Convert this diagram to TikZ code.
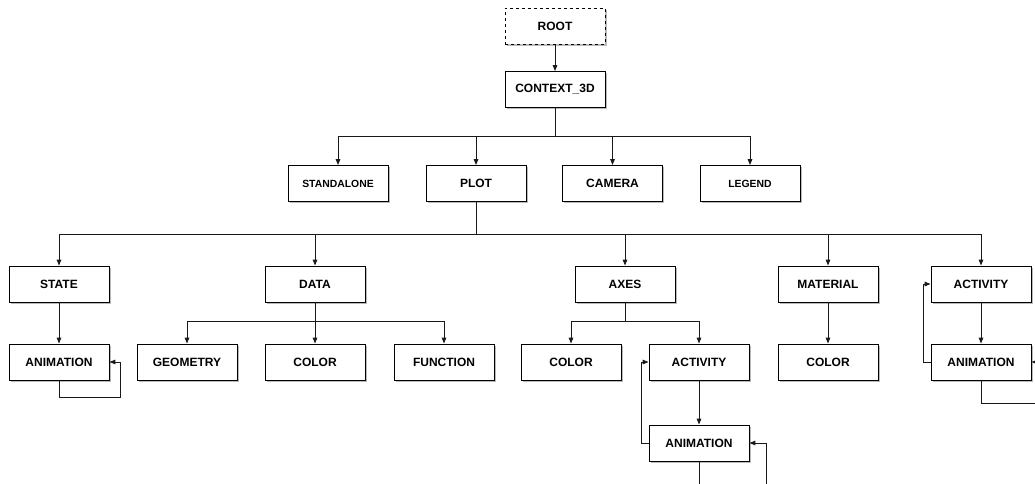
\documentclass[tikz,border=0pt]{standalone}
\usepackage{fontspec}
\setmainfont{Liberation Sans}
\usetikzlibrary{shadows,arrows.meta}
\begin{document}
\begin{tikzpicture}[x=1pt,y=1pt,
  box/.style={draw=black, line width=0.9pt, fill=white, minimum width=100pt, minimum height=36pt,
    inner sep=0pt, font=\fontsize{12}{14}\selectfont\bfseries,
    drop shadow={shadow xshift=1.8pt, shadow yshift=-1.8pt, opacity=0.45, fill=black!60}},
  smallbox/.style={box, font=\fontsize{10.4}{12}\selectfont\bfseries},
  rootbox/.style={box, dashed},
  link/.style={draw=black!90, line width=1pt},
  arr/.style={link, -{Triangle[length=6pt,width=4.6pt]}}]
\useasboundingbox (0,0) rectangle (1035,-484);
\clip (0,0) rectangle (1035,-484);

% top of the tree
\node[rootbox] (root) at (555,-26.5) {ROOT};
\node[box] (ctx) at (555,-89.5) {CONTEXT\_3D};

% second level
\node[smallbox] (standalone) at (338,-183.5) {STANDALONE};
\node[box] (plot) at (476,-183.5) {PLOT};
\node[box] (camera) at (612.5,-183.5) {CAMERA};
\node[smallbox] (legend) at (750,-183.5) {LEGEND};

% children of PLOT
\node[box] (state) at (59,-284) {STATE};
\node[box] (data) at (315,-284) {DATA};
\node[box] (axes) at (625,-284) {AXES};
\node[box] (material) at (828,-284) {MATERIAL};
\node[box] (activity) at (981,-284) {ACTIVITY};

% fourth level
\node[box] (stateanim) at (59,-362) {ANIMATION};
\node[box] (geometry) at (187,-362) {GEOMETRY};
\node[box] (datacolor) at (315,-362) {COLOR};
\node[box] (function) at (444,-362) {FUNCTION};
\node[box] (axescolor) at (571,-362) {COLOR};
\node[box] (axesactivity) at (699,-362) {ACTIVITY};
\node[box] (matcolor) at (828,-362) {COLOR};
\node[box] (actanim) at (981,-362) {ANIMATION};

% fifth level
\node[box] (axesanim) at (699,-443) {ANIMATION};

% bus heights
\coordinate (busctx) at (0,-136);
\coordinate (busplot) at (0,-234);
\coordinate (busdata) at (0,-321);

% loop corners
\coordinate (loopstate) at (120,-397);
\coordinate (loopaxesL) at (641,-443);
\coordinate (loopaxesR) at (766,-520);
\coordinate (loopact) at (923,-362);
\coordinate (loopactR) at (1050,-403);

\draw[arr] (root) -- (ctx);

\draw[link] (ctx.south) -- (ctx.south |- busctx);
\foreach \n in {standalone,plot,camera,legend}
  \draw[arr] (ctx.south |- busctx) -| (\n.north);

\draw[link] (plot.south) -- (plot.south |- busplot);
\foreach \n in {state,data,axes,material,activity}
  \draw[arr] (plot.south |- busplot) -| (\n.north);

\draw[link] (data.south) -- (data.south |- busdata);
\foreach \n in {geometry,datacolor,function}
  \draw[arr] (data.south |- busdata) -| (\n.north);

\draw[link] (axes.south) -- (axes.south |- busdata);
\foreach \n in {axescolor,axesactivity}
  \draw[arr] (axes.south |- busdata) -| (\n.north);

\draw[arr] (state) -- (stateanim);
\draw[arr] (material) -- (matcolor);
\draw[arr] (activity) -- (actanim);
\draw[arr] (axesactivity) -- (axesanim);

% self loops and back links
\draw[arr] (stateanim.south) -- (stateanim.south |- loopstate) -| (loopstate) |- (stateanim.east);
\draw[arr] (axesanim.west) -| (loopaxesL) |- (axesactivity.west);
\draw[arr] (axesanim.south) -- (axesanim.south |- loopaxesR) -| (loopaxesR) |- (axesanim.east);
\draw[arr] (actanim.west) -| (loopact) |- (activity.west);
\draw[arr] (actanim.south) -- (actanim.south |- loopactR) -| (loopactR) |- (actanim.east);
\end{tikzpicture}
\end{document}
